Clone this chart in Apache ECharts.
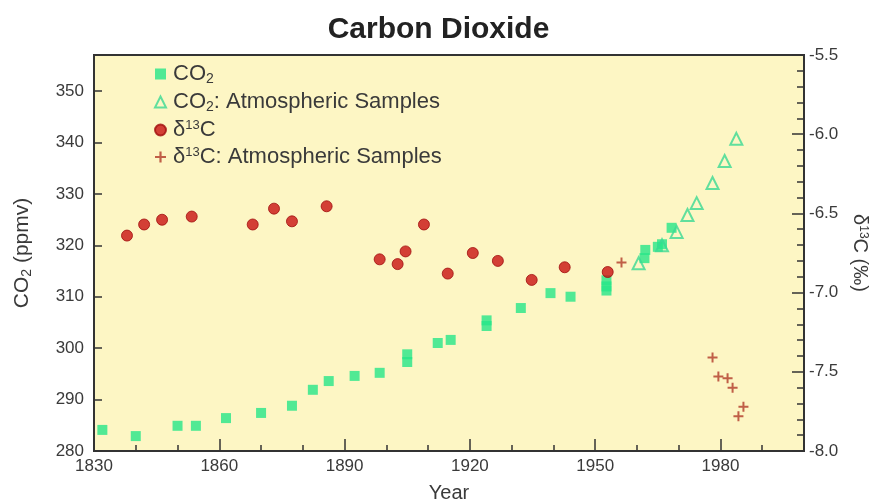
<!DOCTYPE html>
<html>
<head>
<meta charset="utf-8">
<script src="https://cdn.jsdelivr.net/npm/echarts@6/dist/echarts.min.js"></script>
<style>html,body{margin:0;padding:0;background:#fff;}#c{width:877px;height:502px;}</style>
</head>
<body>
<div id="c"></div>
<script>
// Ice-core CO2 (ppmv)
const co2Years  = [1832,1840,1850,1854.4,1861.6,1870,1877.4,1882.4,1886.2,1892.4,1898.4,1905,1905,1912.3,1915.4,1924,1924,1932.2,1939.3,1944.1,1952.7,1952.7,1952.7,1961.8,1962,1965,1966,1968.3];
const co2Values = [284.1,282.9,284.9,284.9,286.4,287.4,288.8,291.9,293.6,294.6,295.2,298.8,297.3,301.0,301.6,305.4,304.3,307.8,310.7,310.0,313.2,312.0,311.2,317.5,319.1,319.7,320.2,323.4];
// Atmospheric CO2 samples (ppmv)
const co2AtmYears  = [1960.4,1966,1969.5,1972.1,1974.3,1978.1,1981,1983.8];
const co2AtmValues = [316.5,320.0,322.6,325.9,328.2,332.1,336.4,340.7];
// delta 13C (permil)
const d13Years  = [1837.9,1842,1846.3,1853.4,1868,1873.1,1877.4,1885.7,1898.4,1902.7,1904.6,1909,1914.7,1920.7,1926.7,1934.8,1942.7,1953];
const d13Values = [-6.64,-6.57,-6.54,-6.52,-6.57,-6.47,-6.55,-6.455,-6.79,-6.82,-6.74,-6.57,-6.88,-6.75,-6.80,-6.92,-6.84,-6.87];
// Atmospheric delta 13C samples
const d13AtmYears  = [1956.3,1978.1,1979.5,1981.7,1982.9,1985.5,1984.3];
const d13AtmValues = [-6.81,-7.41,-7.53,-7.54,-7.60,-7.72,-7.78];
// Axis ticks
const yearTicks = [1830,1860,1890,1920,1950,1980];
const co2Ticks = [280,290,300,310,320,330,340,350];
const d13Ticks = [-8.0,-7.5,-7.0,-6.5,-6.0,-5.5];

const zip = (a,b) => a.map((x,i)=>[x,b[i]]);
const FONT = 'Liberation Sans, Arial, sans-serif';
const GREEN = '#25e688';
const RED = '#c81212';
const PLUS = '#b03a28';
const TXT = '#3a3a3a';
const plusPath = 'path://M4,0 L6,0 L6,4 L10,4 L10,6 L6,6 L6,10 L4,10 L4,6 L0,6 L0,4 L4,4 Z';

const legendText = {
  'CO2': '{t|CO}{sub|2}',
  'CO2 atm': '{t|CO}{sub|2}{t|: Atmospheric Samples}',
  'd13C': '{t|δ}{sup|13}{t|C}',
  'd13C atm': '{t|δ}{sup|13}{t|C: Atmospheric Samples}'
};

const chart = echarts.init(document.getElementById('c'));
chart.setOption({
  backgroundColor: '#ffffff',
  animation: false,
  title: {
    text: 'Carbon Dioxide', left: 'center', top: 10,
    textStyle: {fontFamily: FONT, fontSize: 30, fontWeight: 'bold', color: '#222'}
  },
  grid: {
    left: 94, right: 73, top: 55, bottom: 51,
    outerBoundsMode: 'none', containLabel: false,
    show: true, backgroundColor: '#fdf6c4', borderColor: '#333', borderWidth: 2
  },
  legend: {
    orient: 'vertical', left: 149, top: 58, itemGap: 5,
    itemWidth: 11, itemHeight: 11,
    data: ['CO2','CO2 atm','d13C','d13C atm'],
    formatter: n => legendText[n],
    textStyle: {
      fontFamily: FONT, fontSize: 22, color: TXT, padding: [0,0,0,2],
      rich: {
        t: {fontFamily: FONT, fontSize: 22, color: TXT},
        sub: {fontFamily: FONT, fontSize: 14, color: TXT, padding: [10,0,0,0]},
        sup: {fontFamily: FONT, fontSize: 13, color: TXT, padding: [0,0,9,0]}
      }
    }
  },
  xAxis: [{
    type: 'value', position: 'bottom', min: 1830, max: 2000, interval: 30,
    name: 'Year', nameLocation: 'middle', nameGap: 32,
    nameTextStyle: {fontFamily: FONT, fontSize: 20, color: TXT},
    axisLine: {show: true, lineStyle: {color: '#333', width: 2}},
    axisTick: {show: true, inside: true, length: 12, lineStyle: {color: '#333', width: 1.5}},
    axisLabel: {fontFamily: FONT, fontSize: 17, color: TXT, margin: 7, showMaxLabel: false,
      formatter: v => yearTicks.includes(v) ? String(v) : ''},
    splitLine: {show: false}
  },{
    type: 'value', position: 'bottom', min: 1830, max: 2000, interval: 10,
    axisLine: {show: false},
    axisTick: {show: true, inside: true, length: 6, lineStyle: {color: '#333', width: 1.5}},
    axisLabel: {show: false},
    splitLine: {show: false}
  }],
  yAxis: [{
    type: 'value', position: 'left', min: 280, max: 357, interval: 10,
    name: '{t|CO}{sub|2}{t| (ppmv)}', nameLocation: 'middle', nameGap: 60, nameRotate: 90,
    nameTextStyle: {fontFamily: FONT, fontSize: 21, color: TXT,
      rich: {t: {fontFamily: FONT, fontSize: 21, color: TXT},
             sub: {fontFamily: FONT, fontSize: 14, color: TXT, padding: [10,0,0,0]}}},
    axisLine: {show: true, lineStyle: {color: '#333', width: 2}},
    axisTick: {show: true, inside: true, length: 8, lineStyle: {color: '#333', width: 1.5}},
    axisLabel: {fontFamily: FONT, fontSize: 17, color: TXT, margin: 10, showMaxLabel: false,
      formatter: v => co2Ticks.includes(v) ? String(v) : ''},
    splitLine: {show: false}
  },{
    type: 'value', position: 'right', min: -8, max: -5.5, interval: 0.5,
    name: '{t|δ}{sup|13}{t|C (‰)}', nameLocation: 'middle', nameGap: 38, nameRotate: -90,
    nameTextStyle: {fontFamily: FONT, fontSize: 20, color: TXT,
      rich: {t: {fontFamily: FONT, fontSize: 20, color: TXT},
             sup: {fontFamily: FONT, fontSize: 12, color: TXT, padding: [0,0,8,0]}}},
    axisLine: {show: true, lineStyle: {color: '#333', width: 2}},
    axisTick: {show: true, inside: true, length: 12, lineStyle: {color: '#333', width: 1.5}},
    minorTick: {show: true, splitNumber: 5, length: 7, lineStyle: {color: '#333', width: 1.5}},
    axisLabel: {fontFamily: FONT, fontSize: 17, color: TXT, margin: 5,
      formatter: v => d13Ticks.some(t => Math.abs(t - v) < 1e-6) ? v.toFixed(1) : ''},
    splitLine: {show: false}
  }],
  series: [{
    name: 'CO2', type: 'scatter', xAxisIndex: 0, yAxisIndex: 0,
    symbol: 'rect', symbolSize: 10,
    itemStyle: {color: GREEN},
    data: zip(co2Years, co2Values)
  },{
    name: 'CO2 atm', type: 'scatter', xAxisIndex: 0, yAxisIndex: 0,
    symbol: 'triangle', symbolSize: 12,
    itemStyle: {color: 'rgba(0,0,0,0)', borderColor: '#3ad993', borderWidth: 2},
    data: zip(co2AtmYears, co2AtmValues)
  },{
    name: 'd13C', type: 'scatter', xAxisIndex: 0, yAxisIndex: 1,
    symbol: 'circle', symbolSize: 11,
    itemStyle: {color: RED, borderColor: '#a00e0e', borderWidth: 1},
    data: zip(d13Years, d13Values)
  },{
    name: 'd13C atm', type: 'scatter', xAxisIndex: 0, yAxisIndex: 1,
    symbol: plusPath, symbolSize: 10,
    itemStyle: {color: PLUS},
    data: zip(d13AtmYears, d13AtmValues)
  }]
});
</script>
</body>
</html>
